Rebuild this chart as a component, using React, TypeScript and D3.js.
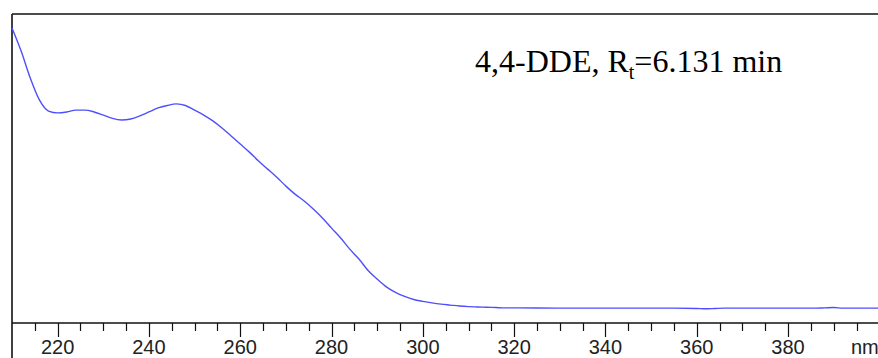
import { useEffect, useRef } from "react";
import * as d3 from "d3";

// UV spectrum, wavelength (nm) vs absorbance (arbitrary units, 0-100 over the frame)
const wavelengths = [
  210, 212, 214, 216, 218, 220, 222, 224, 226, 228, 230, 232, 234, 236, 238,
  240, 242, 244, 246, 248, 250, 252, 254, 256, 258, 260, 262, 264, 266, 268,
  270, 272, 274, 276, 278, 280, 282, 284, 286, 288, 290, 292, 294, 296, 298,
  300, 302, 304, 306, 308, 310, 312, 314, 316, 318, 320, 330, 340, 350, 355,
  360, 362, 364, 366, 370, 380, 385, 388, 390, 392, 395, 400,
];
const absorbance = [
  95.5, 88.0, 79.3, 72.2, 68.6, 68.0, 68.3, 68.9, 68.9, 68.3, 67.3, 66.2, 65.7,
  66.0, 67.0, 68.3, 69.6, 70.4, 70.9, 70.4, 68.9, 67.3, 65.4, 63.1, 60.5, 57.9,
  55.3, 52.4, 49.8, 47.2, 44.3, 41.7, 39.5, 36.9, 34.0, 30.7, 27.5, 23.9, 20.7,
  17.0, 14.2, 11.7, 9.9, 8.6, 7.6, 7.0, 6.5, 6.1, 5.8, 5.5, 5.3, 5.2, 5.1, 5.0,
  4.9, 4.9, 4.8, 4.8, 4.8, 4.8, 4.7, 4.6, 4.7, 4.8, 4.8, 4.8, 4.8, 4.9, 5.0,
  4.8, 4.8, 4.8,
];
const majorTicks = [220, 240, 260, 280, 300, 320, 340, 360, 380];
const minorTicks = [
  215, 225, 230, 235, 245, 250, 255, 265, 270, 275, 285, 290, 295, 305, 310,
  315, 325, 330, 335, 345, 350, 355, 365, 370, 375, 385, 390, 395,
];
const unitLabel = "nm";
const compound = "4,4-DDE, R";
const rtSub = "t";
const rtText = "=6.131 min";

const W = 878;
const H = 358;

export default function App() {
  const svgRef = useRef<SVGSVGElement>(null);

  useEffect(() => {
    if (!svgRef.current) return;
    const svg = d3.select(svgRef.current);
    svg.selectAll("*").remove();

    const left = 12;
    const top = 14;
    const axisY = 323;

    const x = d3.scaleLinear().domain([210, 400]).range([left, left + 190 * 4.565]);
    const y = d3.scaleLinear().domain([0, 100]).range([axisY, top]);

    svg.append("rect").attr("width", W).attr("height", H).attr("fill", "#fff");

    // frame
    svg
      .append("line")
      .attr("x1", left)
      .attr("x2", W)
      .attr("y1", top)
      .attr("y2", top)
      .attr("stroke", "#111")
      .attr("stroke-width", 1.6);
    svg
      .append("line")
      .attr("x1", left)
      .attr("x2", left)
      .attr("y1", top)
      .attr("y2", H)
      .attr("stroke", "#111")
      .attr("stroke-width", 1.6);
    svg
      .append("line")
      .attr("x1", left)
      .attr("x2", W)
      .attr("y1", axisY)
      .attr("y2", axisY)
      .attr("stroke", "#111")
      .attr("stroke-width", 1.4);

    // ticks
    svg
      .selectAll("line.minor")
      .data(minorTicks)
      .join("line")
      .attr("class", "minor")
      .attr("x1", (d) => Math.round(x(d)) + 0.5)
      .attr("x2", (d) => Math.round(x(d)) + 0.5)
      .attr("y1", axisY)
      .attr("y2", axisY + 8)
      .attr("stroke", "#111")
      .attr("stroke-width", 1.2);
    svg
      .selectAll("line.major")
      .data(majorTicks)
      .join("line")
      .attr("class", "major")
      .attr("x1", (d) => Math.round(x(d)) + 0.5)
      .attr("x2", (d) => Math.round(x(d)) + 0.5)
      .attr("y1", axisY)
      .attr("y2", axisY + 14)
      .attr("stroke", "#111")
      .attr("stroke-width", 1.2);
    svg
      .selectAll("text.tick")
      .data(majorTicks)
      .join("text")
      .attr("class", "tick")
      .attr("x", (d) => x(d))
      .attr("y", 353.5)
      .attr("text-anchor", "middle")
      .style("font-family", "'Liberation Sans', Arial, sans-serif")
      .style("font-size", "20px")
      .style("fill", "#222")
      .text((d) => d);
    svg
      .append("text")
      .attr("x", 851)
      .attr("y", 353.5)
      .style("font-family", "'Liberation Sans', Arial, sans-serif")
      .style("font-size", "20px")
      .style("fill", "#222")
      .text(unitLabel);

    // spectrum
    const pts = wavelengths.map((w, i) => [w, absorbance[i]] as [number, number]);
    const line = d3
      .line<[number, number]>()
      .x((d) => x(d[0]))
      .y((d) => y(d[1]))
      .curve(d3.curveMonotoneX);
    svg
      .append("path")
      .attr("d", line(pts))
      .attr("fill", "none")
      .attr("stroke", "#4f4fff")
      .attr("stroke-width", 1.4);

    // annotation
    const t = svg
      .append("text")
      .attr("x", 475)
      .attr("y", 72)
      .style("font-family", "'Liberation Serif', 'Times New Roman', serif")
      .style("font-size", "32px")
      .style("fill", "#000");
    t.append("tspan").text(compound);
    t.append("tspan").attr("dy", 7).style("font-size", "20px").text(rtSub);
    t.append("tspan").attr("dy", -7).text(rtText);
  }, []);

  return (
    <div style={{ position: "fixed", left: 0, top: 0 }}>
      <svg ref={svgRef} width={W} height={H} style={{ display: "block" }} />
    </div>
  );
}
